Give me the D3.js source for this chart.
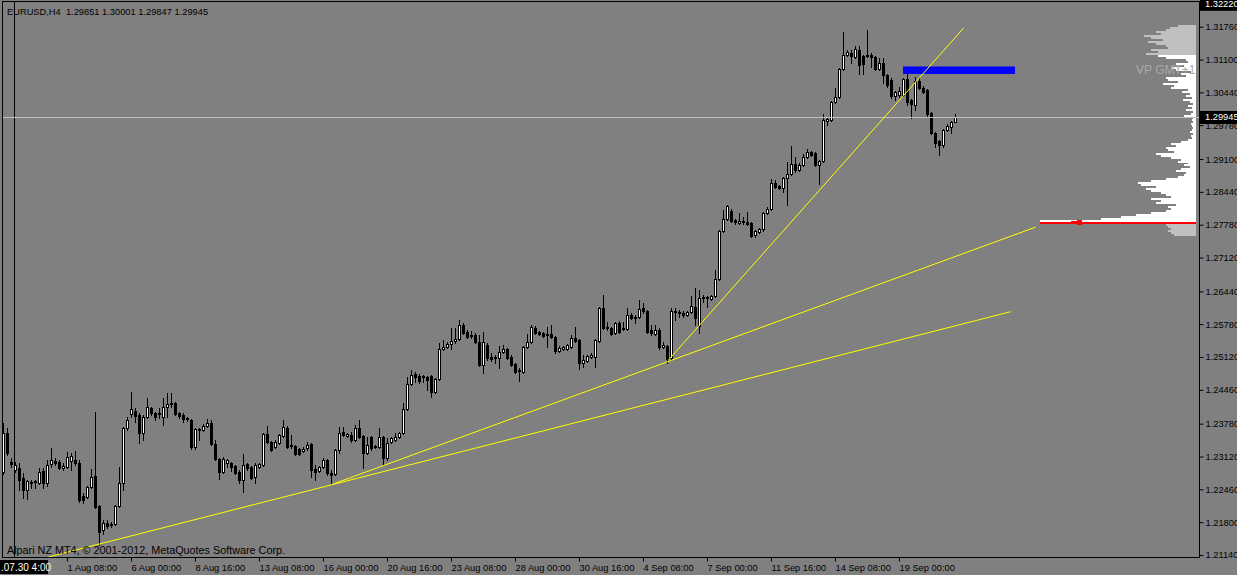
<!DOCTYPE html>
<html><head><meta charset="utf-8">
<script src="https://cdn.jsdelivr.net/npm/d3@7"></script>
<style>
html,body{margin:0;padding:0;background:#808080;overflow:hidden}
svg{display:block}
text{font-family:"Liberation Sans",Arial,sans-serif;font-size:9.3px}
</style></head><body>
<svg id="c" width="1237" height="575"></svg>
<script>
const symbolTitle = "EURUSD,H4  1.29851 1.30001 1.29847 1.29945";
const copyright = "Alpari NZ MT4, \u00A9 2001-2012, MetaQuotes Software Corp.";

const opens = [
1.2281,1.2359,1.2301,1.2285,1.2289,1.2269,1.2245,1.2259,1.2261,1.2259,
1.2283,1.2259,1.2297,1.2303,1.2301,1.2289,1.2291,1.2303,1.2305,1.2299,
1.2233,1.2231,1.2251,1.2273,1.2213,1.2164,1.2178,1.2174,1.2176,1.2213,
1.2259,1.2369,1.2398,1.2404,1.2396,1.2359,1.2391,1.2410,1.2400,1.2398,
1.2391,1.2412,1.2418,1.2420,1.2400,1.2396,1.2389,1.2386,1.2331,1.2367,
1.2365,1.2373,1.2379,1.2337,1.2307,1.2281,1.2299,1.2299,1.2293,1.2281,
1.2265,1.2297,1.2291,1.2271,1.2291,1.2295,1.2357,1.2341,1.2331,1.2339,
1.2353,1.2369,1.2333,1.2333,1.2327,1.2323,1.2329,1.2337,1.2287,1.2283,
1.2291,1.2305,1.2279,1.2277,1.2325,1.2361,1.2353,1.2355,1.2345,1.2369,
1.2353,1.2319,1.2351,1.2331,1.2331,1.2351,1.2309,1.2341,1.2345,1.2351,
1.2359,1.2408,1.2458,1.2478,1.2474,1.2472,1.2472,1.2474,1.2442,1.2468,
1.2528,1.2532,1.2538,1.2544,1.2548,1.2576,1.2562,1.2554,1.2556,1.2542,
1.2496,1.2536,1.2512,1.2510,1.2510,1.2522,1.2528,1.2512,1.2498,1.2484,
1.2482,1.2532,1.2542,1.2570,1.2562,1.2560,1.2556,1.2558,1.2552,1.2524,
1.2528,1.2528,1.2532,1.2550,1.2546,1.2500,1.2504,1.2512,1.2512,1.2544,
1.2611,1.2572,1.2570,1.2560,1.2580,1.2568,1.2568,1.2597,1.2591,1.2593,
1.2611,1.2605,1.2566,1.2558,1.2566,1.2532,1.2534,1.2510,1.2603,1.2603,
1.2601,1.2597,1.2603,1.2613,1.2574,1.2631,1.2633,1.2629,1.2635,1.2669,
1.2765,1.2790,1.2806,1.2787,1.2781,1.2785,1.2783,1.2781,1.2757,1.2763,
1.2769,1.2802,1.2810,1.2862,1.2856,1.2852,1.2872,1.2880,1.2900,1.2888,
1.2898,1.2914,1.2924,1.2922,1.2898,1.2906,1.2986,1.2988,1.3025,1.3035,
1.3091,1.3119,1.3123,1.3115,1.3129,1.3117,1.3119,1.3119,1.3115,1.3091,
1.3103,1.3079,1.3069,1.3037,1.3039,1.3039,1.3071,1.3029,1.3019,1.3067,
1.3053,1.3049,1.3003,1.2962,1.2946,1.2938,1.2968,1.2974,1.29851];
const highs = [
1.2379,1.2369,1.2309,1.2301,1.2299,1.2279,1.2265,1.2265,1.2265,1.2289,
1.2289,1.2305,1.2329,1.2309,1.2305,1.2299,1.2321,1.2319,1.2323,1.2305,
1.2239,1.2253,1.2287,1.2402,1.2215,1.2185,1.2185,1.2180,1.2215,1.2291,
1.2371,1.2391,1.2442,1.2410,1.2400,1.2396,1.2430,1.2412,1.2402,1.2410,
1.2430,1.2440,1.2440,1.2422,1.2402,1.2400,1.2391,1.2388,1.2369,1.2369,
1.2377,1.2388,1.2386,1.2345,1.2309,1.2311,1.2307,1.2301,1.2295,1.2285,
1.2317,1.2299,1.2293,1.2299,1.2299,1.2359,1.2373,1.2343,1.2345,1.2357,
1.2386,1.2373,1.2355,1.2335,1.2329,1.2331,1.2341,1.2339,1.2295,1.2293,
1.2309,1.2307,1.2285,1.2327,1.2371,1.2371,1.2359,1.2361,1.2375,1.2386,
1.2355,1.2351,1.2353,1.2335,1.2369,1.2353,1.2349,1.2351,1.2359,1.2361,
1.2420,1.2472,1.2486,1.2482,1.2478,1.2476,1.2474,1.2476,1.2470,1.2540,
1.2546,1.2542,1.2570,1.2570,1.2587,1.2581,1.2566,1.2564,1.2560,1.2556,
1.2562,1.2540,1.2520,1.2516,1.2534,1.2536,1.2530,1.2516,1.2500,1.2490,
1.2534,1.2558,1.2576,1.2574,1.2564,1.2562,1.2572,1.2576,1.2554,1.2534,
1.2534,1.2538,1.2556,1.2572,1.2548,1.2516,1.2516,1.2520,1.2548,1.2613,
1.2637,1.2582,1.2572,1.2582,1.2584,1.2582,1.2611,1.2601,1.2597,1.2627,
1.2621,1.2607,1.2576,1.2576,1.2570,1.2542,1.2536,1.2611,1.2611,1.2607,
1.2605,1.2605,1.2635,1.2651,1.2647,1.2637,1.2635,1.2637,1.2687,1.2767,
1.2808,1.2818,1.2810,1.2790,1.2802,1.2794,1.2804,1.2783,1.2767,1.2771,
1.2804,1.2814,1.2870,1.2868,1.2858,1.2874,1.2904,1.2936,1.2914,1.2902,
1.2920,1.2930,1.2926,1.2924,1.2908,1.3000,1.2992,1.3027,1.3053,1.3093,
1.3165,1.3129,1.3129,1.3137,1.3137,1.3119,1.3169,1.3123,1.3117,1.3113,
1.3113,1.3081,1.3073,1.3047,1.3055,1.3073,1.3083,1.3031,1.3075,1.3073,
1.3057,1.3051,1.3005,1.2964,1.2948,1.2970,1.2980,1.2986,1.30001];
const lows = [
1.2277,1.2315,1.2291,1.2281,1.2245,1.2229,1.2227,1.2249,1.2249,1.2257,
1.2249,1.2253,1.2291,1.2295,1.2287,1.2285,1.2289,1.2285,1.2295,1.2221,
1.2219,1.2229,1.2249,1.2209,1.2134,1.2156,1.2168,1.2170,1.2174,1.2211,
1.2245,1.2365,1.2391,1.2381,1.2339,1.2345,1.2389,1.2396,1.2386,1.2389,
1.2375,1.2391,1.2412,1.2396,1.2389,1.2381,1.2383,1.2327,1.2327,1.2345,
1.2363,1.2371,1.2335,1.2305,1.2267,1.2279,1.2291,1.2283,1.2277,1.2259,
1.2241,1.2285,1.2267,1.2259,1.2289,1.2293,1.2339,1.2323,1.2329,1.2337,
1.2351,1.2329,1.2329,1.2315,1.2315,1.2321,1.2325,1.2271,1.2265,1.2281,
1.2289,1.2275,1.2259,1.2275,1.2319,1.2353,1.2351,1.2341,1.2343,1.2349,
1.2289,1.2317,1.2325,1.2329,1.2329,1.2295,1.2305,1.2339,1.2343,1.2349,
1.2357,1.2406,1.2456,1.2462,1.2460,1.2462,1.2446,1.2432,1.2440,1.2466,
1.2526,1.2530,1.2528,1.2540,1.2546,1.2558,1.2550,1.2550,1.2540,1.2494,
1.2480,1.2506,1.2504,1.2500,1.2490,1.2520,1.2508,1.2494,1.2480,1.2464,
1.2480,1.2530,1.2540,1.2558,1.2556,1.2552,1.2532,1.2550,1.2520,1.2522,
1.2526,1.2526,1.2530,1.2542,1.2488,1.2492,1.2502,1.2510,1.2492,1.2542,
1.2568,1.2566,1.2556,1.2558,1.2560,1.2566,1.2566,1.2589,1.2580,1.2591,
1.2601,1.2560,1.2556,1.2556,1.2528,1.2530,1.2500,1.2506,1.2587,1.2593,
1.2593,1.2595,1.2601,1.2576,1.2560,1.2623,1.2613,1.2627,1.2633,1.2667,
1.2763,1.2788,1.2783,1.2779,1.2779,1.2779,1.2777,1.2753,1.2753,1.2761,
1.2765,1.2800,1.2808,1.2852,1.2850,1.2844,1.2818,1.2878,1.2884,1.2886,
1.2896,1.2912,1.2916,1.2896,1.2860,1.2904,1.2978,1.2986,1.3023,1.3033,
1.3089,1.3117,1.3103,1.3113,1.3081,1.3081,1.3115,1.3095,1.3089,1.3089,
1.3063,1.3055,1.3033,1.3029,1.3035,1.3037,1.3019,1.2993,1.3009,1.3051,
1.3043,1.2994,1.2960,1.2934,1.2918,1.2934,1.2966,1.2962,1.29847];
const closes = [
1.2359,1.2319,1.2297,1.2295,1.2265,1.2245,1.2263,1.2261,1.2263,1.2281,
1.2259,1.2295,1.2305,1.2299,1.2289,1.2293,1.2311,1.2313,1.2299,1.2225,
1.2225,1.2251,1.2271,1.2211,1.2160,1.2178,1.2172,1.2176,1.2213,1.2259,
1.2369,1.2386,1.2408,1.2394,1.2359,1.2391,1.2412,1.2400,1.2391,1.2400,
1.2412,1.2418,1.2420,1.2398,1.2394,1.2388,1.2387,1.2331,1.2367,1.2365,
1.2373,1.2379,1.2337,1.2307,1.2281,1.2307,1.2305,1.2291,1.2279,1.2265,
1.2295,1.2289,1.2269,1.2295,1.2297,1.2357,1.2341,1.2325,1.2341,1.2355,
1.2371,1.2331,1.2335,1.2317,1.2317,1.2327,1.2335,1.2285,1.2281,1.2291,
1.2305,1.2279,1.2275,1.2325,1.2359,1.2355,1.2357,1.2345,1.2369,1.2351,
1.2319,1.2335,1.2329,1.2333,1.2351,1.2309,1.2339,1.2349,1.2351,1.2359,
1.2408,1.2458,1.2476,1.2472,1.2464,1.2474,1.2466,1.2442,1.2468,1.2528,
1.2532,1.2538,1.2544,1.2548,1.2576,1.2560,1.2552,1.2556,1.2542,1.2496,
1.2542,1.2510,1.2508,1.2512,1.2522,1.2528,1.2510,1.2496,1.2482,1.2486,
1.2532,1.2542,1.2572,1.2560,1.2558,1.2554,1.2558,1.2552,1.2524,1.2530,
1.2532,1.2536,1.2550,1.2544,1.2500,1.2506,1.2514,1.2516,1.2546,1.2611,
1.2570,1.2570,1.2558,1.2580,1.2562,1.2570,1.2597,1.2591,1.2593,1.2609,
1.2605,1.2562,1.2560,1.2566,1.2532,1.2536,1.2508,1.2605,1.2605,1.2601,
1.2597,1.2603,1.2615,1.2591,1.2631,1.2633,1.2631,1.2635,1.2669,1.2765,
1.2790,1.2816,1.2785,1.2783,1.2785,1.2783,1.2779,1.2755,1.2765,1.2769,
1.2802,1.2810,1.2862,1.2854,1.2852,1.2872,1.2880,1.2900,1.2888,1.2898,
1.2914,1.2924,1.2918,1.2898,1.2906,1.2988,1.2990,1.3025,1.3035,1.3091,
1.3119,1.3125,1.3117,1.3131,1.3099,1.3101,1.3117,1.3115,1.3091,1.3103,
1.3079,1.3059,1.3037,1.3045,1.3047,1.3071,1.3025,1.3021,1.3067,1.3053,
1.3045,1.3000,1.2962,1.2942,1.2938,1.2968,1.2976,1.2984,1.29945];

const priceTicks = [1.31760,1.31100,1.30440,1.29780,1.29100,1.28440,1.27780,1.27120,1.26440,
                    1.25780,1.25120,1.24460,1.23780,1.23120,1.22460,1.21800,1.21140];
const priceMax = 1.32220;
const bidPrice = 1.29945;

const timeTickBars = [16,32,48,64,80,96,112,128,144,160,176,192,208,224];
const timeTickLabels = ["1 Aug 08:00","6 Aug 00:00","8 Aug 16:00","13 Aug 08:00","16 Aug 00:00",
  "20 Aug 16:00","23 Aug 08:00","28 Aug 00:00","30 Aug 16:00","4 Sep 08:00","7 Sep 00:00",
  "11 Sep 16:00","14 Sep 08:00","19 Sep 00:00"];

const vLineBar = 3;
const vLineLabel = ".07.30 4:00";

// trend lines: [bar, price] anchors
const trendA = [[11.25,1.2110],[251.75,1.2603]];
const trendB = [[82.5,1.2257],[258,1.2773]];
const trendC = [[166.25,1.2506],[240,1.3173]];
const blueRectBars = [225,253];
const blueRectPrices = [1.3096,1.3081];

// volume profile (top row price, row step, widths top -> bottom)
const vpLabel = "VP GMT+1";
const vpTopPrice = 1.3179;
const vpStep = 0.0004;
const vpHigh = 1.3119, vpLow = 1.2783, vpPoc = 1.27835;
const vpVolume = [18,26,30,40,35,52,45,33,48,40,30,28,45,38,50,
 38,30,10,8,20,12,25,20,5,15,10,30,28,18,33,22,25,8,14,6,10,4,13,6,3,8,4,10,3,5,12,3,4,3,5,4,3,4,6,3,5,4,8,
 15,25,20,30,28,22,40,35,25,15,18,8,12,6,15,20,10,12,18,30,45,58,55,40,50,45,35,30,25,45,35,40,20,28,25,30,45,60,75,95,156,
 65,30,28,25,28,25,22];

const W = 1237, H = 575;
const plotL = 3, plotR = 1199, plotT = 2, plotB = 557;
const svg = d3.select("#c");

const x = d3.scaleLinear().domain([0,1]).range([3,7]);
const y = d3.scaleLinear().domain([1.21140,1.31760]).range([555,26.7]);

svg.append("rect").attr("width",W).attr("height",H).attr("fill","#808080");

svg.append("defs").append("clipPath").attr("id","plot")
  .append("rect").attr("x",plotL).attr("y",plotT).attr("width",plotR-plotL).attr("height",plotB-plotT);

const plot = svg.append("g").attr("clip-path","url(#plot)");

// volume profile
const vpRight = plotR - 3;
const vp = plot.append("g").attr("shape-rendering","crispEdges");
vp.selectAll("rect").data(vpVolume).join("rect")
  .attr("x", d => vpRight - d)
  .attr("width", d => d)
  .attr("y", (d,i) => Math.round(y(vpTopPrice - i*vpStep)))
  .attr("height", (d,i) => Math.round(y(vpTopPrice - (i+1)*vpStep)) - Math.round(y(vpTopPrice - i*vpStep)))
  .attr("fill", (d,i) => { const m = vpTopPrice - (i+0.5)*vpStep; return (m <= vpHigh && m >= vpLow) ? "#ffffff" : "#c0c0c0"; });
const pocW = d3.max(vpVolume);
const pocY = Math.round(y(vpPoc)) + 0.5;
vp.append("line").attr("x1", vpRight - pocW).attr("x2", vpRight).attr("y1", pocY).attr("y2", pocY)
  .attr("stroke","#ff0000").attr("stroke-width",2);
vp.append("path")
  .attr("d", `M${vpRight-pocW+26},${pocY} L${vpRight-pocW+42},${pocY-3} L${vpRight-pocW+42},${pocY+3} Z`)
  .attr("fill","#ff0000");
plot.append("text").attr("x", 1136).attr("y", 74).attr("fill","#ababab").style("font-size","12px").text(vpLabel);

// vertical line object
const vx = Math.round(x(vLineBar)) - 1 + 0.5;
plot.append("line").attr("x1",vx).attr("x2",vx).attr("y1",plotT).attr("y2",plotB)
  .attr("stroke","#000").attr("stroke-width",1);

// candles
const n = closes.length;
const bars = d3.range(n).map(i => ({i, o:opens[i], h:highs[i], l:lows[i], c:closes[i]}));
const cg = plot.append("g").attr("shape-rendering","crispEdges");
bars.forEach(b => {
  const cx = Math.round(x(b.i));
  const yH = Math.round(y(b.h)), yL = Math.round(y(b.l));
  const yT = Math.round(y(Math.max(b.o,b.c))), yB = Math.round(y(Math.min(b.o,b.c)));
  cg.append("line").attr("x1",cx+0.5).attr("x2",cx+0.5).attr("y1",yH).attr("y2",yL+1)
    .attr("stroke","#000");
  if (yB - yT < 1) {
    cg.append("line").attr("x1",cx-1).attr("x2",cx+2).attr("y1",yT+0.5).attr("y2",yT+0.5).attr("stroke","#000");
  } else if (b.c > b.o) {
    cg.append("rect").attr("x",cx-0.5).attr("y",yT+0.5).attr("width",2).attr("height",yB-yT)
      .attr("fill","#fff").attr("stroke","#000");
  } else {
    cg.append("rect").attr("x",cx-1).attr("y",yT).attr("width",3).attr("height",yB-yT+1)
      .attr("fill","#000");
  }
});

// bid line
const bidY = Math.round(y(bidPrice)) + 0.5;
plot.append("line").attr("x1",plotL).attr("x2",plotR).attr("y1",bidY).attr("y2",bidY)
  .attr("stroke","#c0c0c0").attr("shape-rendering","crispEdges");

// rectangle object
plot.append("rect")
  .attr("x", x(blueRectBars[0])).attr("y", y(blueRectPrices[0]))
  .attr("width", x(blueRectBars[1]) - x(blueRectBars[0]))
  .attr("height", y(blueRectPrices[1]) - y(blueRectPrices[0]))
  .attr("fill","#0000ff");

// trend lines
const line = d3.line().x(d => x(d[0]) + 0.5).y(d => y(d[1]));
[trendA, trendB, trendC].forEach(t => {
  plot.append("path").attr("d", line(t)).attr("fill","none").attr("stroke","#ffff00").attr("stroke-width",1);
});

// frame
svg.append("rect").attr("x",plotL-0.5).attr("y",plotT-0.5).attr("width",plotR-plotL+1).attr("height",plotB-plotT+1)
  .attr("fill","none").attr("stroke","#000").attr("shape-rendering","crispEdges");

// price axis
const yAxis = d3.axisRight(y).tickValues(priceTicks).tickSize(4).tickPadding(2).tickFormat(d3.format(".5f"));
const ya = svg.append("g").attr("transform",`translate(${plotR+0.5},0)`).call(yAxis);
ya.select(".domain").remove();
ya.selectAll("line").attr("stroke","#000");
ya.selectAll("text").attr("fill","#000").style("font-family","Liberation Sans, Arial, sans-serif").style("font-size","9.3px");

// top max label and bid label
function boxLabel(price, yPos){
  svg.append("rect").attr("x",plotR+1).attr("y",yPos-6).attr("width",W-plotR).attr("height",13).attr("fill","#000");
  svg.append("text").attr("x",plotR+6).attr("y",yPos).attr("dy","0.35em").attr("fill","#fff").text(d3.format(".5f")(price));
}
boxLabel(priceMax, y(priceMax));
boxLabel(bidPrice, y(bidPrice));

// time axis
const xAxis = d3.axisBottom(x).tickValues(timeTickBars).tickSize(4).tickPadding(3).tickFormat((d,i) => timeTickLabels[i]);
const xa = svg.append("g").attr("transform",`translate(0,${plotB+0.5})`).call(xAxis);
xa.select(".domain").remove();
xa.selectAll("line").attr("stroke","#000");
xa.selectAll("text").attr("fill","#000").attr("text-anchor","start").attr("x",0)
  .style("font-family","Liberation Sans, Arial, sans-serif").style("font-size","9.3px");

// vertical line time label
svg.append("rect").attr("x",0).attr("y",plotB+3).attr("width",48).attr("height",14).attr("fill","#000");
svg.append("text").attr("x",1).attr("y",plotB+14).attr("fill","#fff").style("font-size","10px").text(vLineLabel);

// texts
svg.append("text").attr("x",7).attr("y",14.5).attr("fill","#000").style("white-space","pre").text(symbolTitle);
svg.append("text").attr("x",7).attr("y",554).attr("fill","#000").style("font-size","10.8px").text(copyright);
</script>
</body></html>
